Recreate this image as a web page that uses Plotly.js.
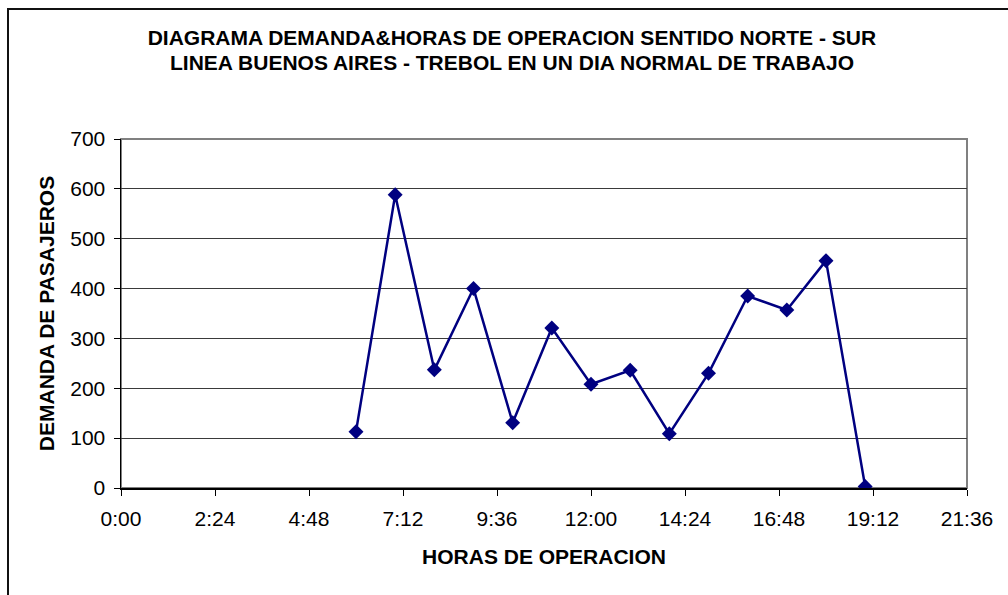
<!DOCTYPE html>
<html>
<head>
<meta charset="utf-8">
<script src="https://cdn.plot.ly/plotly-3.0.1.min.js"></script>
<style>
  html, body { margin: 0; padding: 0; background: #fff; overflow: hidden; }
  #chart { width: 1008px; height: 595px; position: relative; }
  #frame { position: absolute; left: 7px; top: 8px; width: 1010px; height: 600px;
           border: 2px solid #111; pointer-events: none; box-sizing: border-box; }
</style>
</head>
<body>
<div id="chart"></div>
<div id="frame"></div>
<script>
// ---- data ----
const hours = ['6:00','7:00','8:00','9:00','10:00','11:00','12:00','13:00','14:00','15:00','16:00','17:00','18:00','19:00'];
const demand = [113, 588, 237, 400, 131, 321, 208, 236, 109, 230, 385, 357, 456, 3];
const titleLine1 = 'DIAGRAMA DEMANDA&HORAS DE OPERACION SENTIDO NORTE - SUR';
const titleLine2 = 'LINEA BUENOS AIRES - TREBOL EN UN DIA NORMAL DE TRABAJO';
const xTitle = 'HORAS DE OPERACION';
const yTitle = 'DEMANDA DE PASAJEROS';

function toDate(h) {
  const [hh, mm] = h.split(':');
  return '2000-01-01 ' + hh.padStart(2, '0') + ':' + mm;
}

const FONT = 'Liberation Sans, Arial, Helvetica, sans-serif';

const trace = {
  x: hours.map(toDate),
  y: demand,
  type: 'scatter',
  mode: 'lines+markers',
  line: { color: '#000080', width: 2.5 },
  marker: { symbol: 'diamond', size: 11.5, color: '#000080' },
  hoverinfo: 'x+y'
};

const layout = {
  width: 1008, height: 595,
  margin: { l: 121, r: 41, t: 139, b: 107 },
  paper_bgcolor: '#ffffff',
  plot_bgcolor: '#ffffff',
  font: { family: FONT, size: 21, color: '#000' },
  showlegend: false,
  title: {
    text: titleLine1,
    font: { family: FONT, size: 21, weight: 'bold', color: '#000' },
    xref: 'paper', x: 0.462, xanchor: 'center',
    yref: 'container', y: 1 - 38 / 595, yanchor: 'middle'
  },
  annotations: [{
    text: titleLine2,
    font: { family: FONT, size: 21, weight: 'bold', color: '#000' },
    xref: 'paper', x: 0.462, xanchor: 'center',
    yref: 'paper', y: (488 - 62) / 349, yanchor: 'middle',
    showarrow: false
  }],
  xaxis: {
    type: 'date',
    range: ['2000-01-01 00:00', '2000-01-01 21:36'],
    tick0: '2000-01-01 00:00',
    dtick: 144 * 60 * 1000,
    tickformat: '%-H:%M',
    ticks: 'outside', ticklen: 6, tickcolor: '#000', tickwidth: 1,
    showline: true, linecolor: '#000', linewidth: 1.5,
    showgrid: false, zeroline: false,
    tickfont: { family: FONT, size: 21, color: '#000' },
    ticklabelstandoff: 5,
    title: { text: xTitle, font: { family: FONT, size: 21, weight: 'bold', color: '#000' }, standoff: 20 }
  },
  yaxis: {
    range: [0, 700],
    dtick: 100,
    ticks: 'outside', ticklen: 6, tickcolor: '#000', tickwidth: 1,
    showline: true, linecolor: '#000', linewidth: 1.5,
    showgrid: true, gridcolor: '#3a3a3a', gridwidth: 1.2,
    zeroline: false,
    tickfont: { family: FONT, size: 21, color: '#000' },
    ticklabelstandoff: 4,
    title: { text: yTitle, font: { family: FONT, size: 21, weight: 'bold', color: '#000' }, standoff: 10 }
  },
  shapes: [{
    type: 'rect', xref: 'paper', yref: 'paper', x0: 0, x1: 1, y0: 0, y1: 1,
    line: { color: '#808080', width: 2 }, layer: 'below'
  }]
};

Plotly.newPlot('chart', [trace], layout, { displayModeBar: false, staticPlot: true });
</script>
</body>
</html>
